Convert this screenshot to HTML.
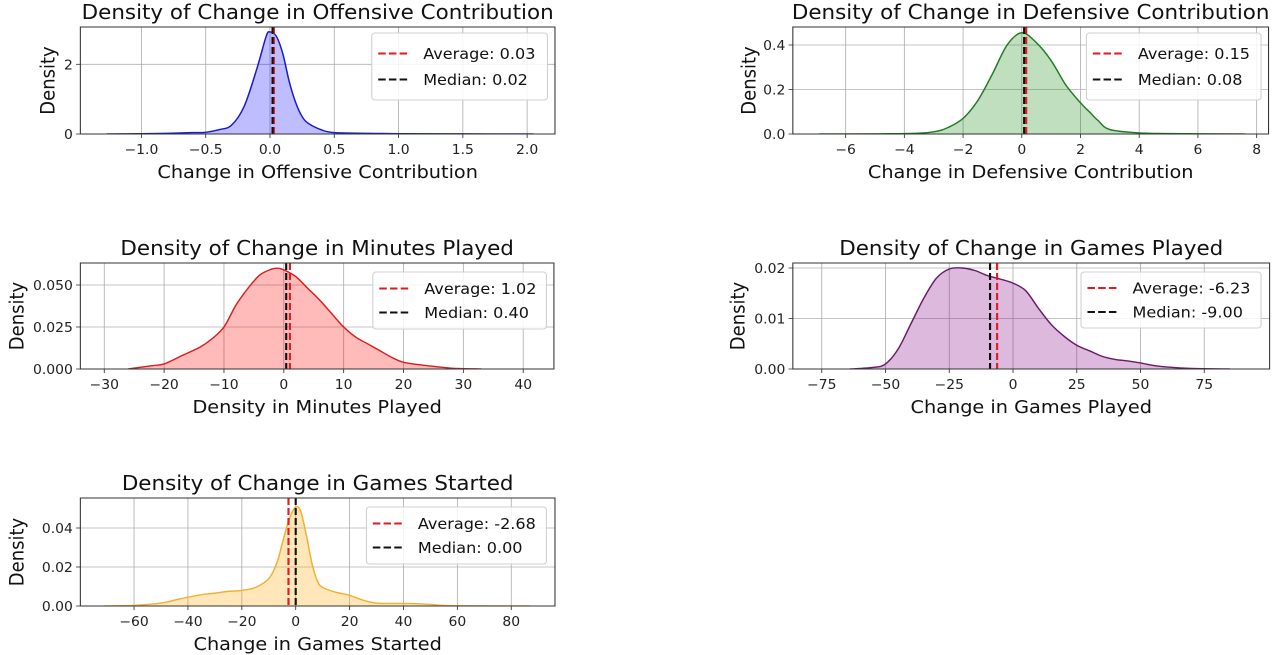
<!DOCTYPE html>
<html><head><meta charset="utf-8">
<style>
html,body{margin:0;padding:0;background:#fff;}
svg{display:block;font-family:"DejaVu Sans","Liberation Sans",sans-serif;}
</style></head>
<body>
<svg width="1280" height="655" viewBox="0 0 1280 655"><g id="root" transform="scale(1.0714,1)"></g></svg>
<script>
// ---- Data arrays ----
const offX = [-1.27,-1.0,-0.8,-0.6,-0.5,-0.4,-0.3,-0.2,-0.1,-0.03,0.0,0.05,0.1,0.15,0.2,0.25,0.3,0.4,0.5,0.75,1.0,1.5,2.05];
const offY = [0,0.01,0.02,0.04,0.05,0.12,0.25,0.8,1.9,2.8,2.93,2.8,2.3,1.5,0.9,0.5,0.3,0.12,0.04,0.02,0.01,0.005,0];
const offStats = [0.03, 0.02];
const offXTicks = [-1.0,-0.5,0.0,0.5,1.0,1.5,2.0];
const offYTicks = [0,2];

const defX = [-6.9,-4,-3,-2.5,-2,-1.5,-1,-0.5,0,0.5,1,1.5,2,2.3,2.6,3,4,5,7.6];
const defY = [0,0.002,0.01,0.03,0.07,0.15,0.27,0.4,0.455,0.41,0.33,0.22,0.14,0.1,0.06,0.02,0.005,0.002,0];
const defStats = [0.15, 0.08];
const defXTicks = [-6,-4,-2,0,2,4,6,8];
const defYTicks = [0.0,0.2,0.4];

const minX = [-26,-22,-20,-17,-14,-12,-10,-8,-6,-4,-2,-1,0,2,4,6,8,10,12,14,16,18,20,24,28,33];
const minY = [0,0.002,0.003,0.008,0.013,0.018,0.025,0.038,0.048,0.056,0.0595,0.060,0.059,0.055,0.048,0.041,0.033,0.025,0.019,0.015,0.011,0.007,0.004,0.002,0.0005,0];
const minStats = [1.02, 0.40];
const minXTicks = [-30,-20,-10,0,10,20,30,40];
const minYTicks = [0.000,0.025,0.050];

const gpX = [-64,-55,-50,-45,-40,-35,-30,-25,-20,-15,-10,-5,0,5,10,15,20,25,30,35,40,45,50,55,60,70,85];
const gpY = [0,0.0003,0.001,0.004,0.009,0.014,0.018,0.0198,0.020,0.0195,0.0185,0.0178,0.017,0.0155,0.012,0.0088,0.0065,0.0047,0.0036,0.0025,0.0019,0.0016,0.0012,0.0007,0.0004,0.0001,0];
const gpStats = [-6.23, -9.00];
const gpXTicks = [-75,-50,-25,0,25,50,75];
const gpYTicks = [0.00,0.01,0.02];

const gsX = [-71,-60,-50,-45,-40,-35,-30,-25,-20,-15,-10,-7,-5,-3,-1,0.5,2,4,6,8,10,15,20,25,30,35,40,45,50,55,65,87];
const gsY = [0,0.0003,0.0015,0.003,0.0045,0.0058,0.0066,0.0075,0.008,0.0095,0.014,0.022,0.032,0.042,0.049,0.051,0.048,0.036,0.022,0.013,0.0095,0.007,0.0055,0.003,0.0015,0.0013,0.0013,0.0012,0.0008,0.0003,0.0001,0];
const gsStats = [-2.68, 0.00];
const gsXTicks = [-60,-40,-20,0,20,40,60,80];
const gsYTicks = [0.00,0.02,0.04];

// ---- Layout ----
const NS = "http://www.w3.org/2000/svg";
const root = document.getElementById('root');
function mk(tag, attrs, parent){const e=document.createElementNS(NS,tag);for(const k in attrs)e.setAttribute(k,attrs[k]);(parent||root).appendChild(e);return e;}

const charts = [
 {key:'offensive', xs:offX, ys:offY, stats:offStats, xt:offXTicks, yt:offYTicks, ydec:0, xdec:1,
  box:[75,27,518,134], x0:252, xs1:120, ys1:34.85, line:'#1a1acc', fill:'rgba(0,0,255,0.26)',
  title:'Density of Change in Offensive Contribution', xlabel:'Change in Offensive Contribution', ylx:45, leg:[347,33,164,67]},
 {key:'defensive', xs:defX, ys:defY, stats:defStats, xt:defXTicks, yt:defYTicks, ydec:1, xdec:0,
  box:[740,27,1184,134], x0:953.7, xs1:27.4, ys1:222.5, line:'#237a23', fill:'rgba(0,128,0,0.25)',
  title:'Density of Change in Defensive Contribution', xlabel:'Change in Defensive Contribution', ylx:699, leg:[1014,33,163,67]},
 {key:'minutes', xs:minX, ys:minY, stats:minStats, xt:minXTicks, yt:minYTicks, ydec:3, xdec:0,
  box:[75,263,517,369], x0:264.9, xs1:5.586, ys1:1680, line:'#d62020', fill:'rgba(255,0,0,0.27)',
  title:'Density of Change in Minutes Played', xlabel:'Density in Minutes Played', ylx:16, leg:[348,272,162,57]},
 {key:'games-played', xs:gpX, ys:gpY, stats:gpStats, xt:gpXTicks, yt:gpYTicks, ydec:2, xdec:0,
  box:[740,263,1185,369], x0:945.5, xs1:2.38, ys1:5050, line:'#6a1a6a', fill:'rgba(128,0,128,0.27)',
  title:'Density of Change in Games Played', xlabel:'Change in Games Played', ylx:689, leg:[1009,272,168,56]},
 {key:'games-started', xs:gsX, ys:gsY, stats:gsStats, xt:gsXTicks, yt:gsYTicks, ydec:2, xdec:0,
  box:[75,498,518,606], x0:276, xs1:2.515, ys1:1950, line:'#f0b030', fill:'rgba(255,165,0,0.27)',
  title:'Density of Change in Games Started', xlabel:'Change in Games Started', ylx:16, leg:[342,507,168,57]},
];

function fmt(v,d){const s=Math.abs(v).toFixed(d);return (v<0?'\u2212':'')+s;}
function smoothPath(pts){
  let d='M'+pts[0][0].toFixed(2)+','+pts[0][1].toFixed(2);
  for(let i=0;i<pts.length-1;i++){
    const p0=pts[i-1]||pts[i],p1=pts[i],p2=pts[i+1],p3=pts[i+2]||p2;
    const c1=[p1[0]+(p2[0]-p0[0])/6,p1[1]+(p2[1]-p0[1])/6];
    const c2=[p2[0]-(p3[0]-p1[0])/6,p2[1]-(p3[1]-p1[1])/6];
    d+=' C'+c1[0].toFixed(2)+','+c1[1].toFixed(2)+' '+c2[0].toFixed(2)+','+c2[1].toFixed(2)+' '+p2[0].toFixed(2)+','+p2[1].toFixed(2);
  }
  return d;
}

charts.forEach(c=>{
  const [L,T,R,B]=c.box;
  const sx=v=>c.x0+v*c.xs1, sy=v=>B-v*c.ys1;
  const g=mk('g',{});
  
  
  const clipId='clip-'+c.key;
  const cp=mk('clipPath',{id:clipId},g); mk('rect',{x:L,y:T,width:R-L,height:B-T},cp);
  c.xt.forEach(t=>{const x=sx(t);
    const gl=mk('line',{x1:x,x2:x,y1:T,y2:B,stroke:'#b0b0b0','stroke-width':0.8},g);
    
    
    mk('line',{x1:x,x2:x,y1:B,y2:B+4,stroke:'#333','stroke-width':0.8},g);
    const tl=mk('text',{x:x,y:B+20,'text-anchor':'middle','font-size':13,fill:'#222'},g);
    tl.textContent=fmt(t,c.xdec);
    
    
  });
  c.yt.forEach(t=>{const y=sy(t);
    const gl=mk('line',{x1:L,x2:R,y1:y,y2:y,stroke:'#b0b0b0','stroke-width':0.8},g);
    
    
    mk('line',{x1:L-4,x2:L,y1:y,y2:y,stroke:'#333','stroke-width':0.8},g);
    const tl=mk('text',{x:L-7,y:y+5,'text-anchor':'end','font-size':13,fill:'#222'},g);
    tl.textContent=t.toFixed(c.ydec);
    
    
  });
  const pts=c.xs.map((v,i)=>[sx(v),sy(c.ys[i])]);
  const d=smoothPath(pts);
  const area=mk('path',{d:d+' L'+pts[pts.length-1][0]+','+B+' L'+pts[0][0]+','+B+' Z',fill:c.fill,stroke:'none','clip-path':'url(#'+clipId+')'},g);
  
  
  const ln=mk('path',{d:d,fill:'none',stroke:c.line,'stroke-width':1.4,'clip-path':'url(#'+clipId+')'},g);
  
  
  const av=mk('line',{x1:sx(c.stats[0]),x2:sx(c.stats[0]),y1:T,y2:B,stroke:'#e31a1c','stroke-width':2,'stroke-dasharray':'7,3'},g);
  
  
  const md=mk('line',{x1:sx(c.stats[1]),x2:sx(c.stats[1]),y1:T,y2:B,stroke:'#111','stroke-width':2,'stroke-dasharray':'7,3'},g);
  
  
  const fr=mk('rect',{x:L,y:T,width:R-L,height:B-T,fill:'none',stroke:'#333','stroke-width':1},g);
  
  
  const ti=mk('text',{x:(L+R)/2,y:T-8,'text-anchor':'middle','font-size':20,fill:'#111'},g);
  ti.textContent=c.title;
  
  
  const xl=mk('text',{x:(L+R)/2,y:B+44,'text-anchor':'middle','font-size':18,fill:'#111'},g);
  xl.textContent=c.xlabel;
  
  
  const yl=mk('text',{x:0,y:0,'text-anchor':'middle','font-size':18,fill:'#111',transform:'translate('+(c.ylx+6)+','+((T+B)/2)+') rotate(-90)'},g);
  yl.textContent='Density';
  
  
  const [lx,ly,lw,lh]=c.leg;
  const lg=mk('g',{},g);
  
  
  mk('rect',{x:lx,y:ly,width:lw,height:lh,rx:3,fill:'rgba(255,255,255,0.85)',stroke:'#d0d0d0','stroke-width':1},lg);
  const rows=[['#e31a1c','Average: '+c.stats[0].toFixed(2),'legend-average'],['#111','Median: '+c.stats[1].toFixed(2),'legend-median']];
  const step=lh>60?26:24;
  rows.forEach((r,i)=>{
    const yy=ly+lh/2-step/2+i*step;
    mk('line',{x1:lx+6,x2:lx+36,y1:yy,y2:yy,stroke:r[0],'stroke-width':2,'stroke-dasharray':'7,3'},lg);
    const tt=mk('text',{x:lx+48,y:yy+5.5,'font-size':15,fill:'#111'},lg);
    tt.textContent=r[1];
    
    
  });
});
</script>
</body></html>
